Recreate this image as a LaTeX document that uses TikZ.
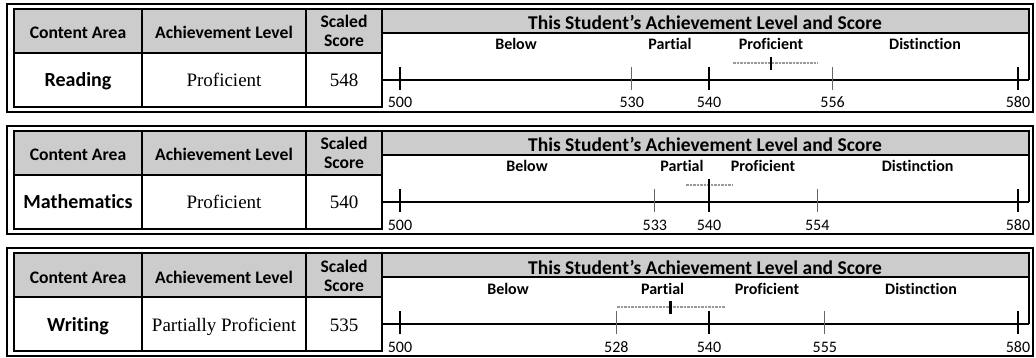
\documentclass[tikz,border=0pt]{standalone}
\usepackage{fontspec}
\setmainfont{Liberation Serif}
\newfontfamily\hdfont[Ligatures={NoCommon,NoRare,NoContextual}]{Carlito}
\tikzset{
  outerframe/.style={line width=2.4pt},
  gridline/.style={line width=1.2pt},
  hdrfill/.style={fill=black!20},
  colhead/.style={font=\hdfont\bfseries\fontsize{17.6}{19}\selectfont, anchor=base, inner sep=0pt},
  rowhead/.style={font=\hdfont\bfseries\fontsize{20}{22}\selectfont, anchor=base, inner sep=0pt},
  serifcell/.style={font=\fontsize{19}{21}\selectfont, anchor=base, inner sep=0pt},
  charttitle/.style={font=\hdfont\bfseries\fontsize{19.5}{21}\selectfont, anchor=base, inner sep=0pt},
  levellab/.style={font=\hdfont\bfseries\fontsize{16}{18}\selectfont, anchor=base, inner sep=0pt},
  ticklab/.style={font=\hdfont\fontsize{16}{18}\selectfont, anchor=base, inner sep=0pt},
  majortick/.style={line width=1.4pt},
  cuttick/.style={line width=1.1pt, black!60},
  axisline/.style={line width=1.6pt},
  seband/.style={line width=2.4pt, black!40, dash pattern=on 2.5pt off 1pt},
  scoremark/.style={line width=2.6pt},
}
% #1 prefix, #2 subject, #3 level, #4 score
\newcommand\panelbase[4]{%
  \draw[outerframe] (7,0) rectangle (1033,108);
  \fill[hdrfill] (14,5) rectangle (382,49);
  \fill[hdrfill] (382,5) rectangle (1029,29);
  \draw[gridline] (14,5) rectangle (382,103);
  \draw[gridline] (14,49) -- (382,49);
  \draw[gridline] (142,5) -- (142,103);
  \draw[gridline] (306,5) -- (306,103);
  \draw[gridline] (382,5) -- (1029,5) -- (1029,76);
  \draw[gridline] (382,29) -- (1029,29);
  \coordinate (#1-axl) at (382,76);
  \coordinate (#1-axr) at (1029,76);
  \draw[axisline] (#1-axl) -- (#1-axr);
  \node[colhead] (#1-h1) at (78,35) {Content Area};
  \node[colhead] (#1-h2) at (224,35) {Achievement Level};
  \node[colhead] (#1-h3a) at (344,24) {Scaled};
  \node[colhead] (#1-h3b) at (344,43) {Score};
  \node[rowhead] (#1-subj) at (78,83) {#2};
  \node[serifcell] (#1-lev) at (224,83) {#3};
  \node[serifcell] (#1-score) at (344,83) {#4};
  \node[charttitle] (#1-title) at (705,26) {This Student’s Achievement Level and Score};
}
% #1 prefix, #2 x, #3 label, #4 style
\newcommand\tickat[4]{%
  \draw[#4] (#2,63) -- (#2,86);
  \node[ticklab] (#1-t#3) at (#2,104) {#3};
}
\newcommand\levels[5]{%
  \node[levellab] (#1-l1) at (#2,46) {Below};
  \node[levellab] (#1-l2) at (#3,46) {Partial};
  \node[levellab] (#1-l3) at (#4,46) {Proficient};
  \node[levellab] (#1-l4) at (#5,46) {Distinction};
}
% #1 prefix, #2 lo, #3 score x, #4 hi
\newcommand\scoremarker[4]{%
  \coordinate (#1-blo) at (#2,59);
  \coordinate (#1-bhi) at (#4,59);
  \draw[seband] (#1-blo) -- (#1-bhi);
  \coordinate (#1-mt) at (#3,53);
  \coordinate (#1-mb) at (#3,66);
  \draw[scoremark] (#1-mt) -- (#1-mb);
}
\begin{document}
\begin{tikzpicture}[x=1pt,y=-1pt]
\useasboundingbox (0,0) rectangle (1036,358);
% Reading
\begin{scope}[shift={(0,4)}]
  \panelbase{r}{Reading}{Proficient}{548}
  \tickat{r}{400}{500}{majortick}
  \tickat{r}{631.75}{530}{cuttick}
  \tickat{r}{709}{540}{majortick}
  \tickat{r}{832.6}{556}{cuttick}
  \tickat{r}{1018}{580}{majortick}
  \levels{r}{516}{670}{771}{925}
  \scoremarker{r}{733}{770.8}{818}
\end{scope}
% Mathematics
\begin{scope}[shift={(0,126)}]
  \panelbase{m}{Mathematics}{Proficient}{540}
  \tickat{m}{400}{500}{majortick}
  \tickat{m}{654.9}{533}{cuttick}
  \tickat{m}{709}{540}{majortick}
  \tickat{m}{817.2}{554}{cuttick}
  \tickat{m}{1018}{580}{majortick}
  \levels{m}{527}{682}{763}{917.6}
  \scoremarker{m}{686}{709}{733}
\end{scope}
% Writing
\begin{scope}[shift={(0,248)}]
  \panelbase{w}{Writing}{Partially Proficient}{535}
  \tickat{w}{400}{500}{majortick}
  \tickat{w}{616.3}{528}{cuttick}
  \tickat{w}{709}{540}{majortick}
  \tickat{w}{824.9}{555}{cuttick}
  \tickat{w}{1018}{580}{majortick}
  \levels{w}{508}{662.6}{767}{921}
  \scoremarker{w}{617}{670.4}{725}
\end{scope}
\end{tikzpicture}
\end{document}
